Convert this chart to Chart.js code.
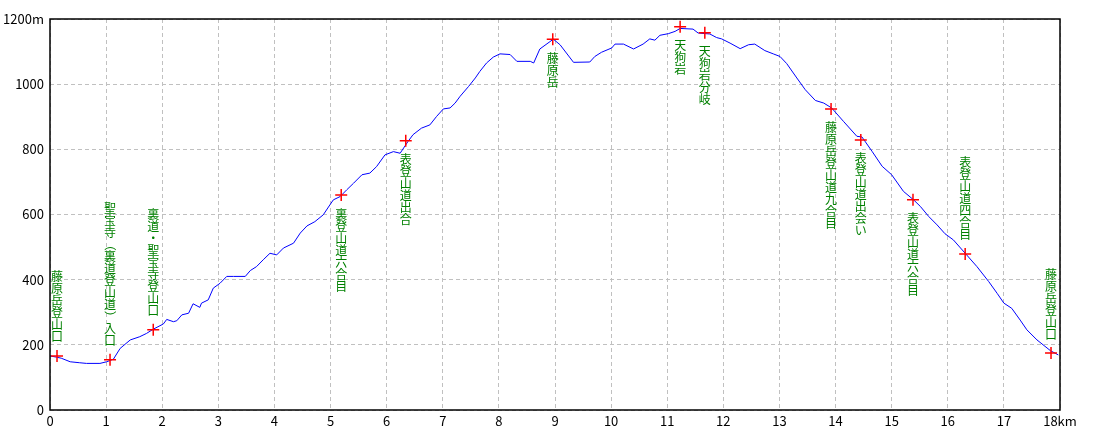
<!DOCTYPE html>
<html>
<head>
<meta charset="utf-8">
<script src="https://cdn.jsdelivr.net/npm/chart.js@4/dist/chart.umd.min.js"></script>
<style>
html,body{margin:0;padding:0;background:#fff;}
canvas{display:block;}
</style>
</head>
<body>
<canvas id="c" width="1100" height="440"></canvas>
<script>
// ---- Elevation profile (distance km / elevation m) ----
const distKm = [0.00,0.12,0.20,0.36,0.53,0.65,0.89,1.01,1.07,1.13,1.25,1.43,1.60,1.72,1.84,2.02,2.08,2.20,2.26,2.35,2.47,2.55,2.67,2.70,2.82,2.91,3.03,3.15,3.27,3.48,3.57,3.68,3.80,3.92,4.04,4.16,4.34,4.46,4.58,4.72,4.87,4.99,5.05,5.17,5.29,5.41,5.56,5.70,5.82,5.97,6.12,6.24,6.38,6.47,6.62,6.77,6.89,7.01,7.13,7.22,7.31,7.46,7.58,7.66,7.78,7.90,8.02,8.20,8.32,8.56,8.62,8.73,8.97,9.09,9.33,9.62,9.71,9.83,10.01,10.07,10.22,10.40,10.57,10.69,10.78,10.87,11.02,11.14,11.23,11.46,11.55,11.76,11.88,11.97,12.12,12.30,12.45,12.56,12.74,12.89,13.01,13.13,13.31,13.46,13.64,13.79,13.93,14.14,14.38,14.47,14.65,14.83,15.00,15.21,15.39,15.51,15.66,15.81,15.95,16.10,16.31,16.52,16.73,16.88,17.00,17.14,17.29,17.41,17.59,17.83,17.97];
const elevM  = [166,162,159,148,145,143,143,148,152,156,189,215,225,235,248,264,278,271,274,292,297,326,315,328,338,374,389,410,410,410,428,440,461,481,476,497,512,543,565,578,599,630,645,655,676,696,722,727,747,783,793,788,824,845,865,875,901,924,927,942,963,993,1019,1039,1065,1083,1093,1091,1070,1070,1065,1108,1138,1121,1067,1068,1085,1098,1111,1123,1123,1108,1123,1139,1135,1150,1155,1162,1171,1169,1157,1154,1143,1139,1126,1109,1121,1123,1103,1093,1085,1063,1019,983,950,942,927,886,840,838,794,748,722,671,645,625,594,568,541,522,481,440,394,358,328,312,276,246,215,182,169];

// ---- Waypoints ----
const waypointNames = ['藤原岳登山口','聖宝寺（裏道登山道）入口','裏道・聖宝寺登山口','裏登山道六合目','表登山道出合','藤原岳','天狗岩','天狗岩分岐','藤原岳登山道九合目','表登山道出会い','表登山道六合目','表登山道四合目','藤原岳登山口'];
const waypointKm    = [0.125,1.07,1.84,5.19,6.34,8.96,11.23,11.67,13.92,14.45,15.38,16.31,17.84];
const waypointElev  = [166,154,246,660,826,1138,1176,1158,924,829,645,479,175];

// ---- Axis ticks ----
const xTickLabels = ['0','1','2','3','4','5','6','7','8','9','10','11','12','13','14','15','16','17','18km'];
const yTickLabels = {0:'0',200:'200',400:'400',600:'600',800:'800',1000:'1000',1200:'1200m'};

const labelSide = ['up','up','up','down','down','down','down','down','down','down','down','up','up'];

const profilePoints = distKm.map((d,i)=>({x:d,y:elevM[i]}));
const wpPoints = waypointKm.map((d,i)=>({x:d,y:waypointElev[i]}));

const FONT = '"Noto Sans CJK JP", "Noto Sans", sans-serif';

const framePlugin = {
  id: 'frame',
  afterDraw(chart) {
    const {ctx, chartArea:a} = chart;
    ctx.save();
    ctx.strokeStyle = '#000';
    ctx.lineWidth = 1.5;
    ctx.strokeRect(a.left, a.top, a.right - a.left, a.bottom - a.top);
    ctx.restore();
  }
};

const labelPlugin = {
  id: 'waypointLabels',
  afterDatasetsDraw(chart) {
    const {ctx, scales:{x, y}} = chart;
    ctx.save();
    ctx.font = '12px ' + FONT;
    ctx.fillStyle = '#008000';
    ctx.textAlign = 'center';
    ctx.textBaseline = 'middle';
    const pitch = 12, gap = 13;
    waypointNames.forEach((name, i) => {
      const px = x.getPixelForValue(waypointKm[i]);
      const py = y.getPixelForValue(waypointElev[i]);
      const chars = Array.from(name);
      const n = chars.length;
      const startY = labelSide[i] === 'up' ? py - gap - n * pitch : py + gap;
      chars.forEach((c, k) => {
        const cy = startY + k * pitch + pitch / 2;
        if (c === '（' || c === '）') {
          ctx.save();
          ctx.translate(px, cy);
          ctx.rotate(Math.PI / 2);
          ctx.fillText(c, 0, 0);
          ctx.restore();
        } else {
          ctx.fillText(c, px, cy);
        }
      });
    });
    ctx.restore();
  }
};

new Chart(document.getElementById('c'), {
  type: 'scatter',
  data: {
    datasets: [
      {
        label: 'waypoints',
        data: wpPoints,
        showLine: false,
        pointStyle: 'cross',
        pointRadius: 6,
        pointHoverRadius: 6,
        pointBorderColor: '#ff0000',
        pointBackgroundColor: '#ff0000',
        pointBorderWidth: 1.5,
        order: 0
      },
      {
        label: 'profile',
        data: profilePoints,
        showLine: true,
        borderColor: '#0000ff',
        borderWidth: 1,
        pointRadius: 0,
        tension: 0,
        order: 1
      }
    ]
  },
  options: {
    responsive: false,
    animation: false,
    devicePixelRatio: 1,
    layout: { padding: { top: 19, right: 40, left: 0, bottom: 0 } },
    plugins: { legend: { display: false }, tooltip: { enabled: false } },
    scales: {
      x: {
        type: 'linear', min: 0, max: 18,
        afterFit(s) { s.height = 30; },
        ticks: {
          stepSize: 1, padding: 3, color: '#000', maxRotation: 0,
          font: { family: FONT, size: 13 },
          callback: (v) => xTickLabels[v] !== undefined ? xTickLabels[v] : ''
        },
        grid: { color: '#c0c0c0', lineWidth: 1, drawTicks: false },
        border: { display: false, dash: [4, 3] }
      },
      y: {
        type: 'linear', min: 0, max: 1200,
        afterFit(s) { s.width = 50; },
        ticks: {
          stepSize: 200, padding: 6, color: '#000',
          font: { family: FONT, size: 13 },
          callback: (v) => yTickLabels[v] !== undefined ? yTickLabels[v] : ''
        },
        grid: { color: '#c0c0c0', lineWidth: 1, drawTicks: false },
        border: { display: false, dash: [4, 3] }
      }
    }
  },
  plugins: [labelPlugin, framePlugin]
});
</script>
</body>
</html>
